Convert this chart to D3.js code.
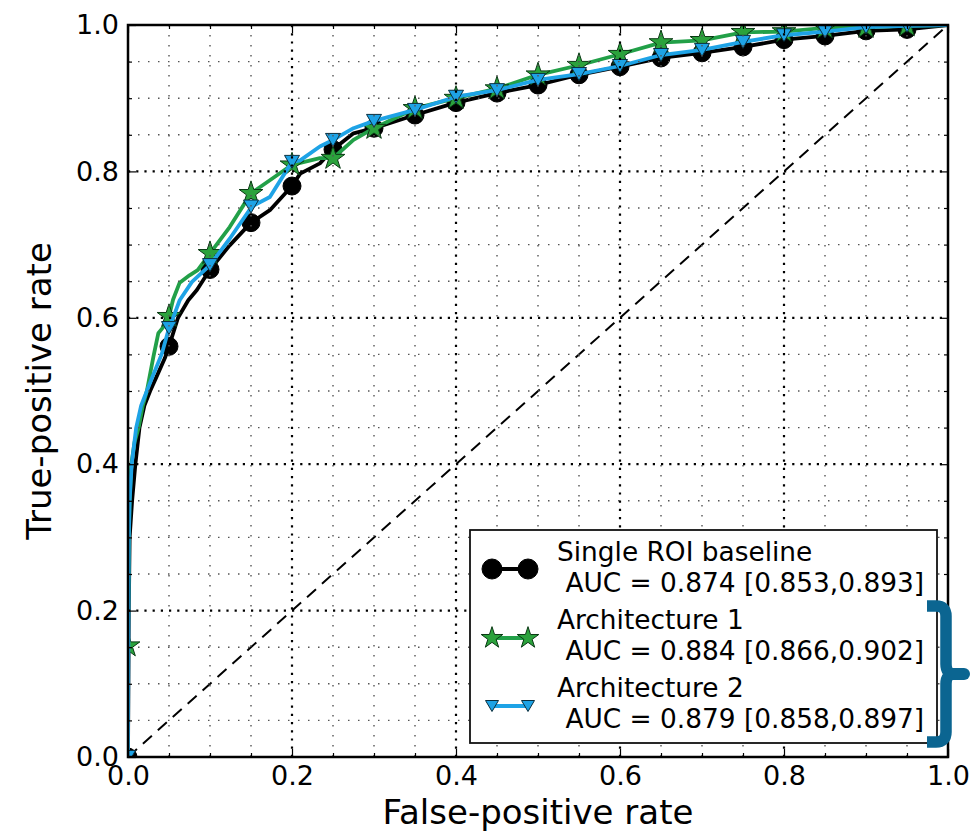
<!DOCTYPE html>
<html><head><meta charset="utf-8">
<script src="https://cdn.jsdelivr.net/npm/d3@7"></script>
<style>
body{margin:0;background:#fff}
text{font-family:"DejaVu Sans",sans-serif;fill:#000}
</style>
</head><body>
<svg id="c" width="976" height="834"></svg>
<script>
// ---------- data ----------
const majorTicks = [0, 0.2, 0.4, 0.6, 0.8, 1.0];
const tickLabels = ["0.0", "0.2", "0.4", "0.6", "0.8", "1.0"];
const minorTicks = [0.05,0.1,0.15,0.25,0.3,0.35,0.45,0.5,0.55,0.65,0.7,0.75,0.85,0.9,0.95];

const seriesNames = ["Single ROI baseline", "Architecture 1", "Architecture 2"];
const aucLabels = [" AUC = 0.874 [0.853,0.893]", " AUC = 0.884 [0.866,0.902]", " AUC = 0.879 [0.858,0.897]"];

const baseFpr = [0,0.001,0.002,0.005,0.009,0.014,0.02,0.027,0.035,0.045,0.05,0.061,0.0735,0.084,0.1,0.124,0.15,0.173,0.2,0.21,0.234,0.25,0.275,0.3,0.35,0.4,0.45,0.5,0.55,0.6,0.65,0.7,0.75,0.8,0.85,0.9,0.95,1.0];
const baseTpr = [0,0.2,0.3,0.35,0.4,0.45,0.48,0.5,0.52,0.545,0.561,0.6,0.624,0.638,0.666,0.699,0.73,0.747,0.78,0.797,0.811,0.83,0.852,0.859,0.877,0.894,0.907,0.918,0.932,0.943,0.955,0.962,0.97,0.98,0.985,0.992,0.994,1.0];

const arch1Fpr = [0,0,0.001,0.002,0.004,0.008,0.013,0.018,0.023,0.031,0.037,0.045,0.05,0.055,0.063,0.075,0.085,0.1,0.124,0.15,0.173,0.2,0.234,0.25,0.275,0.3,0.35,0.4,0.45,0.5,0.55,0.6,0.65,0.7,0.75,0.8,0.85,0.9,0.95,1.0];
const arch1Tpr = [0,0.152,0.3,0.35,0.4,0.43,0.45,0.48,0.5,0.547,0.579,0.59,0.602,0.625,0.648,0.658,0.665,0.688,0.724,0.77,0.788,0.809,0.818,0.818,0.843,0.859,0.886,0.9,0.913,0.932,0.945,0.96,0.976,0.979,0.99,0.991,0.996,0.997,0.999,1.0];

const arch2Fpr = [0,0.001,0.002,0.0045,0.01,0.016,0.023,0.03,0.041,0.05,0.055,0.063,0.078,0.1,0.124,0.151,0.173,0.2,0.21,0.234,0.25,0.275,0.3,0.35,0.4,0.45,0.5,0.55,0.6,0.65,0.7,0.75,0.8,0.85,0.9,0.95,1.0];
const arch2Tpr = [0,0.3,0.35,0.4,0.45,0.48,0.5,0.52,0.55,0.586,0.6,0.624,0.649,0.672,0.708,0.752,0.765,0.813,0.815,0.834,0.843,0.859,0.869,0.884,0.902,0.911,0.925,0.933,0.944,0.959,0.966,0.977,0.986,0.991,0.997,0.999,1.0];

// marker positions
const baseMarkFpr = [0,0.05,0.1,0.15,0.2,0.25,0.3,0.35,0.4,0.45,0.5,0.55,0.6,0.65,0.7,0.75,0.8,0.85,0.9,0.95];
const baseMarkTpr = [0,0.561,0.666,0.73,0.78,0.83,0.859,0.877,0.894,0.907,0.918,0.932,0.943,0.955,0.962,0.97,0.98,0.985,0.992,0.994];
const arch1MarkFpr = [0,0.05,0.1,0.15,0.2,0.25,0.3,0.35,0.4,0.45,0.5,0.55,0.6,0.65,0.7,0.75,0.8,0.85,0.9,0.95];
const arch1MarkTpr = [0.152,0.602,0.688,0.77,0.809,0.818,0.859,0.886,0.9,0.913,0.932,0.945,0.96,0.976,0.979,0.99,0.991,0.996,0.997,0.999];
const arch2MarkFpr = [0,0.05,0.1,0.15,0.2,0.25,0.3,0.35,0.4,0.45,0.5,0.55,0.6,0.65,0.7,0.75,0.8,0.85,0.9,0.95];
const arch2MarkTpr = [0,0.586,0.672,0.752,0.813,0.843,0.869,0.884,0.902,0.911,0.925,0.933,0.944,0.959,0.966,0.977,0.986,0.991,0.997,0.999];

// ---------- layout ----------
const svg = d3.select("#c");
const L = 128, T = 25, W = 820, H = 732;
const x = d3.scaleLinear().domain([0,1]).range([0,W]);
const y = d3.scaleLinear().domain([0,1]).range([H,0]);
const g = svg.append("g").attr("transform", `translate(${L},${T})`);

svg.append("defs").append("clipPath").attr("id","clip")
  .append("rect").attr("x",0).attr("y",0).attr("width",W).attr("height",H);

const colors = ["#000000", "#22a048", "#1ea3e6"];
const markFill = ["#000000", "#2ba23c", "#1ea3e6"];

// diagonal
const plot = g.append("g").attr("clip-path","url(#clip)");
plot.append("line").attr("x1",x(0)).attr("y1",y(0)).attr("x2",x(1)).attr("y2",y(1))
  .attr("stroke","#000").attr("stroke-width",2).attr("stroke-dasharray","12,8");

const lineGen = d3.line().x(d=>x(d[0])).y(d=>y(d[1]));
const starPath = d3.symbol().type(d3.symbolStar).size(175)();
const starPathL = d3.symbol().type(d3.symbolStar).size(145)();
const triPath = "M-7.5,-6.5L7.5,-6.5L0,6.5Z";
const triPathL = "M-6.5,-5.5L6.5,-5.5L0,5.5Z";

const series = [
  {fpr: baseFpr, tpr: baseTpr, mf: baseMarkFpr, mt: baseMarkTpr},
  {fpr: arch1Fpr, tpr: arch1Tpr, mf: arch1MarkFpr, mt: arch1MarkTpr},
  {fpr: arch2Fpr, tpr: arch2Tpr, mf: arch2MarkFpr, mt: arch2MarkTpr}
];

function drawMarker(sel, i, px, py, legend) {
  if (i === 0) {
    sel.append("circle").attr("cx",px).attr("cy",py).attr("r", legend?10:9)
      .attr("fill","#000").attr("stroke","#000").attr("stroke-width",1);
  } else if (i === 1) {
    sel.append("path").attr("d", legend?starPathL:starPath).attr("transform",`translate(${px},${py})`)
      .attr("fill",markFill[1]).attr("stroke","#0a3a14").attr("stroke-width",1);
  } else {
    sel.append("path").attr("d", legend?triPathL:triPath).attr("transform",`translate(${px},${py})`)
      .attr("fill",markFill[2]).attr("stroke","#0a3040").attr("stroke-width",1);
  }
}

series.forEach((s,i)=>{
  const pts = s.fpr.map((f,k)=>[f, s.tpr[k]]);
  plot.append("path").datum(pts).attr("d",lineGen)
    .attr("fill","none").attr("stroke",colors[i]).attr("stroke-width",3.8)
    .attr("stroke-linejoin","round");
  const mg = plot.append("g");
  s.mf.forEach((f,k)=> drawMarker(mg, i, x(f), y(s.mt[k]), false));
});

// grid (drawn above data, matplotlib classic)
const grid = g.append("g");
minorTicks.forEach(v=>{
  grid.append("line").attr("x1",x(v)).attr("x2",x(v)).attr("y1",0).attr("y2",H)
    .attr("stroke","#555").attr("stroke-width",1.4).attr("stroke-dasharray","1.5,8.5");
  grid.append("line").attr("y1",y(v)).attr("y2",y(v)).attr("x1",0).attr("x2",W)
    .attr("stroke","#555").attr("stroke-width",1.4).attr("stroke-dasharray","1.5,8.5");
});
majorTicks.slice(1,-1).forEach(v=>{
  grid.append("line").attr("x1",x(v)).attr("x2",x(v)).attr("y1",0).attr("y2",H)
    .attr("stroke","#000").attr("stroke-width",2.2).attr("stroke-dasharray","2.2,6");
  grid.append("line").attr("y1",y(v)).attr("y2",y(v)).attr("x1",0).attr("x2",W)
    .attr("stroke","#000").attr("stroke-width",2.2).attr("stroke-dasharray","2.2,6");
});

// axes
const fmt = (d)=> tickLabels[majorTicks.indexOf(d)];
function styleAxis(sel){ sel.select(".domain").remove(); sel.selectAll("line").attr("stroke","#000").attr("stroke-width",1.2); }
g.append("g").attr("transform",`translate(0,${H})`)
  .call(d3.axisBottom(x).tickValues(majorTicks).tickSize(-8).tickPadding(9).tickFormat(fmt))
  .call(styleAxis).selectAll("text").attr("font-size",27).attr("font-family","DejaVu Sans");
g.append("g").attr("transform",`translate(0,${H})`)
  .call(d3.axisBottom(x).tickValues(minorTicks).tickSize(-4).tickFormat(""))
  .call(styleAxis);
g.append("g")
  .call(d3.axisTop(x).tickValues(majorTicks).tickSize(-8).tickFormat("")).call(styleAxis);
g.append("g")
  .call(d3.axisTop(x).tickValues(minorTicks).tickSize(-4).tickFormat("")).call(styleAxis);
g.append("g")
  .call(d3.axisLeft(y).tickValues(majorTicks).tickSize(-8).tickPadding(9).tickFormat(fmt))
  .call(styleAxis).selectAll("text").attr("font-size",27).attr("font-family","DejaVu Sans");
g.append("g")
  .call(d3.axisLeft(y).tickValues(minorTicks).tickSize(-4).tickFormat("")).call(styleAxis);
g.append("g").attr("transform",`translate(${W},0)`)
  .call(d3.axisRight(y).tickValues(majorTicks).tickSize(-8).tickFormat("")).call(styleAxis);
g.append("g").attr("transform",`translate(${W},0)`)
  .call(d3.axisRight(y).tickValues(minorTicks).tickSize(-4).tickFormat("")).call(styleAxis);

// frame
g.append("rect").attr("x",0).attr("y",0).attr("width",W).attr("height",H)
  .attr("fill","none").attr("stroke","#000").attr("stroke-width",2.5);

// axis labels
svg.append("text").attr("x", L+W/2).attr("y", 824).attr("text-anchor","middle")
  .attr("font-size",34).text("False-positive rate");
svg.append("text").attr("transform",`translate(51,${T+H/2}) rotate(-90)`)
  .attr("text-anchor","middle").attr("font-size",34).text("True-positive rate");

// legend
const lg = svg.append("g");
lg.append("rect").attr("x",470).attr("y",530).attr("width",467).attr("height",213)
  .attr("fill","#fff").attr("stroke","#111").attr("stroke-width",1.8);
const entryY = [561, 629, 697];
const handleY = [569, 638, 706];
seriesNames.forEach((name,i)=>{
  lg.append("line").attr("x1",492).attr("x2",528).attr("y1",handleY[i]).attr("y2",handleY[i])
    .attr("stroke",colors[i]).attr("stroke-width",3.8);
  drawMarker(lg, i, 492, handleY[i], true);
  drawMarker(lg, i, 528, handleY[i], true);
  lg.append("text").attr("x",557).attr("y",entryY[i]).attr("font-size",26.4).text(name);
  lg.append("text").attr("x",557).attr("y",entryY[i]+31).attr("font-size",26.4)
    .style("white-space","pre").text(aucLabels[i]);
});

// bracket annotation
const bc = "#0b6591";
svg.append("path")
  .attr("d","M927,606 L936,606 Q946,606 946,616 L946,664 Q946,674 954,674 M927,742 L936,742 Q946,742 946,732 L946,684 Q946,674 954,674")
  .attr("fill","none").attr("stroke",bc).attr("stroke-width",11.5).attr("stroke-linejoin","round");
svg.append("line").attr("x1",950).attr("x2",964).attr("y1",674).attr("y2",674)
  .attr("stroke",bc).attr("stroke-width",12).attr("stroke-linecap","round");
</script>
</body></html>
